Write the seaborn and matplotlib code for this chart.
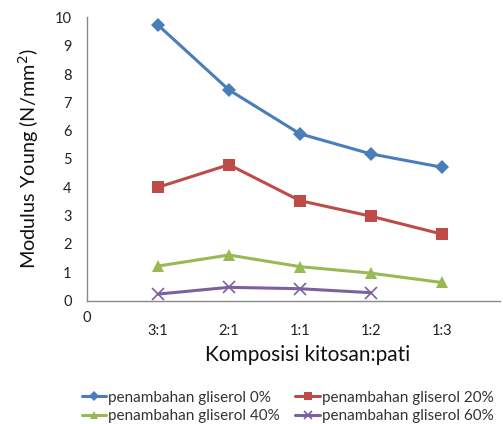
import matplotlib
matplotlib.use("Agg")
import matplotlib.pyplot as plt
import seaborn as sns
import pandas as pd

categories = ["3:1", "2:1", "1:1", "1:2", "1:3"]
gliserol_0 = [9.73, 7.44, 5.89, 5.18, 4.71]
gliserol_20 = [4.00, 4.80, 3.53, 2.98, 2.35]
gliserol_40 = [1.22, 1.61, 1.20, 0.97, 0.64]
gliserol_60 = [0.23, 0.47, 0.42, 0.28]
series_names = ["penambahan gliserol 0%", "penambahan gliserol 20%",
                "penambahan gliserol 40%", "penambahan gliserol 60%"]

sns.set_style("white")
plt.rcParams["font.family"] = ["Lato", "DejaVu Sans"]

fig = plt.figure(figsize=(5.03, 4.24), dpi=100)
ax = fig.add_axes([0.173, 0.291, 0.821, 0.668])

colors = ["#4A7EBB", "#BE4B48", "#98B954", "#7D60A0"]
markers = ["D", "s", "^", "x"]
msizes = [7, 8, 8, 8]
all_series = [gliserol_0, gliserol_20, gliserol_40, gliserol_60]

for name, vals, c, m, ms in zip(series_names, all_series, colors, markers, msizes):
    df = pd.DataFrame({"pos": list(range(1, len(vals) + 1)), "val": vals})
    sns.lineplot(data=df, x="pos", y="val", ax=ax, color=c, marker=m,
                 markersize=ms, linewidth=2.2, markeredgewidth=1.2 if m == "x" else 0,
                 markeredgecolor=c, label=name, legend=False)

ax.set_xlim(0, 5.82)
ax.set_ylim(0, 10)
ax.set_xticks(range(1, 6))
ax.set_xticklabels(categories)
ax.set_yticks(range(0, 11))
ax.text(0, -0.6, "0", ha="center", va="center", fontsize=10.5, color="#222222")

for s in ["top", "right"]:
    ax.spines[s].set_visible(False)
for s in ["left", "bottom"]:
    ax.spines[s].set_color("#898989")
    ax.spines[s].set_linewidth(1)
ax.tick_params(axis="both", direction="out", length=5, width=1, color="#898989",
               labelsize=10.5, labelcolor="#222222", pad=6)
ax.tick_params(axis="x", pad=12)

ax.set_xlabel("Komposisi kitosan:pati", fontsize=15, color="#111111")
ax.xaxis.set_label_coords(0.535, -0.155)
ax.set_ylabel("Modulus Young (N/mm$^2$)", fontsize=14.3, color="#111111", labelpad=10)

handles, labels = ax.get_legend_handles_labels()
order = [0, 2, 1, 3]
fig.legend([handles[i] for i in order], [labels[i] for i in order], ncol=2,
           loc="center", bbox_to_anchor=(0.572, 0.04), frameon=False,
           fontsize=11, handlelength=1.6, handletextpad=0.12,
           columnspacing=1.0, labelspacing=0.3, markerscale=0.7,
           labelcolor="#333333")

fig.savefig("out.png", dpi=100)
